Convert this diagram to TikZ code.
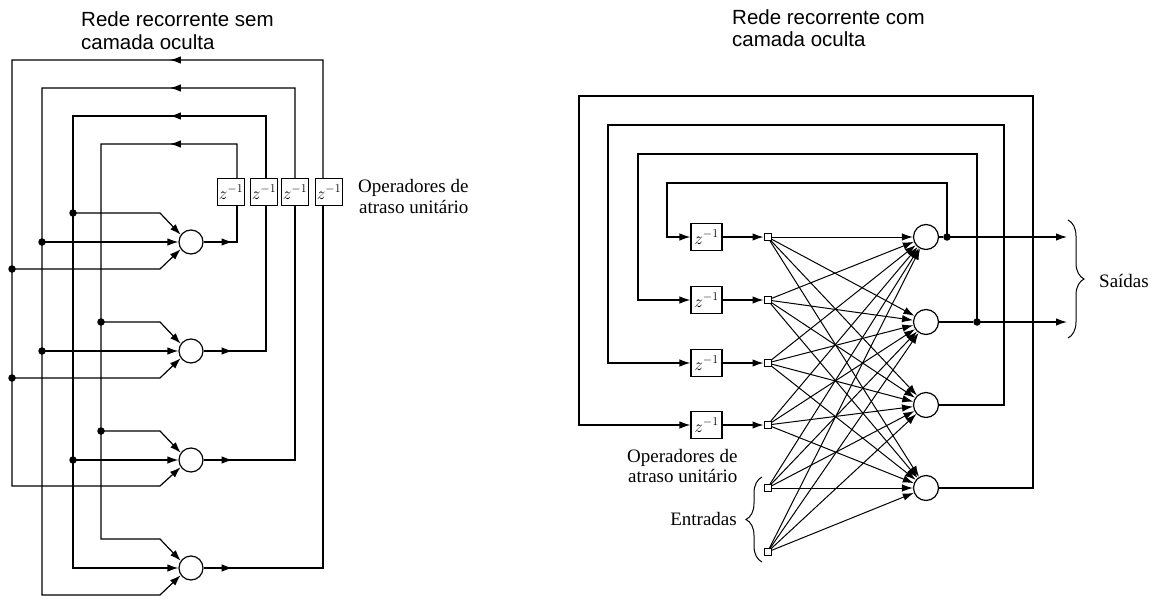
\documentclass[tikz,border=0pt]{standalone}
\usepackage{fontspec}
\setmainfont{Liberation Serif}
\newfontfamily\titlefont{Liberation Sans}
\usetikzlibrary{arrows.meta,decorations.markings,decorations.pathreplacing}

\newcommand{\zinv}{\fontsize{18}{18}\selectfont$z^{-1}$}

\tikzset{
  wire/.style={line width=1.2pt},
  fanwire/.style={line width=1pt},
  neuron/.style={circle, draw, line width=1.2pt, minimum size=24pt, inner sep=0pt, fill=white},
  delaybox/.style={draw, line width=1.2pt, minimum width=27pt, minimum height=27pt, inner sep=0pt, fill=white},
  joint/.style={circle, fill=black, minimum size=7.5pt, inner sep=0pt},
  port/.style={draw, line width=1pt, minimum size=7pt, inner sep=0pt, fill=white},
  tip/.style={-{Latex[length=11pt,width=7.5pt]}},
  arrat/.style={postaction=decorate, decoration={markings,
      mark=at position #1 with {\arrow{Latex[length=11pt,width=7.5pt]}}}},
  label/.style={font=\fontsize{19}{21}\selectfont, inner sep=0pt},
  heading/.style={font=\titlefont\fontsize{20.5}{24}\selectfont, inner sep=0pt},
  curly/.style={decorate, line width=1pt, decoration={brace, amplitude=16pt}},
}

\begin{document}
\begin{tikzpicture}[x=1pt, y=-1pt]
\useasboundingbox (0,0) rectangle (1157,599);

% ---------------- network without hidden layer ----------------
\node[heading, anchor=base west] (h1a) at (81,27) {Rede recorrente sem};
\node[heading, anchor=base west] (h1b) at (81,50) {camada oculta};

\node[neuron] (k1) at (191,242) {};
\node[neuron] (k2) at (191,351) {};
\node[neuron] (k3) at (191,460) {};
\node[neuron] (k4) at (191,568) {};

\node[delaybox] (b1) at (231,192) {\zinv};
\node[delaybox] (b2) at (264,192) {\zinv};
\node[delaybox] (b3) at (295,192) {\zinv};
\node[delaybox] (b4) at (329,192) {\zinv};
\coordinate (t1) at (237,0);
\coordinate (t2) at (266,0);
\coordinate (t3) at (295,0);
\coordinate (t4) at (323,0);

\node[label, anchor=base west] (op1a) at (358,193) {Operadores de};
\node[label, anchor=base west] (op1b) at (359,213) {atraso unitário};

% neuron outputs into the delay operators
\draw[wire, arrat=29pt] (k1.east) -- (237,242) -- (b1.south -| t1);
\draw[wire, arrat=29pt] (k2.east) -- (266,351) -- (b2.south -| t2);
\draw[wire, arrat=29pt] (k3.east) -- (295,460) -- (b3.south -| t3);
\draw[wire, arrat=29pt] (k4.east) -- (323,568) -- (b4.south -| t4);

% feedback buses
\draw[wire, tip, arrat=101pt] (b1.north -| t1) -- (237,144) -- (101,144) -- (101,539) -- (160,539) -- (k4.145);
\draw[wire, tip, arrat=158pt] (b2.north -| t2) -- (266,116) -- (73,116) -- (73,568) -- (k4.west);
\draw[wire, tip, arrat=215pt] (b3.north -| t3) -- (295,88) -- (42,88) -- (42,595) -- (160,595) -- (k4.215);
\draw[wire, tip, arrat=271pt] (b4.north -| t4) -- (323,60) -- (12,60) -- (12,486) -- (160,486) -- (k3.215);

% taps from the buses
\node[joint] (j1) at (101,322) {};
\node[joint] (j2) at (101,431) {};
\node[joint] (j3) at (73,213) {};
\node[joint] (j4) at (73,460) {};
\node[joint] (j5) at (42,242) {};
\node[joint] (j6) at (42,351) {};
\node[joint] (j7) at (12,269) {};
\node[joint] (j8) at (12,378) {};

\draw[wire, tip] (j1.center) -- (160,322) -- (k2.145);
\draw[wire, tip] (j2.center) -- (160,431) -- (k3.145);
\draw[wire, tip] (j3.center) -- (160,213) -- (k1.145);
\draw[wire, tip] (j4.center) -- (k3.west);
\draw[wire, tip] (j5.center) -- (k1.west);
\draw[wire, tip] (j6.center) -- (k2.west);
\draw[wire, tip] (j7.center) -- (160,269) -- (k1.215);
\draw[wire, tip] (j8.center) -- (160,378) -- (k2.215);

% ---------------- network with hidden layer ----------------
\node[heading, anchor=base west] (h2a) at (732,25) {Rede recorrente com};
\node[heading, anchor=base west] (h2b) at (732,47) {camada oculta};

\foreach \i/\y in {1/237, 2/300, 3/363, 4/425}
  \node[delaybox, minimum width=31pt] (zr\i) at (706.5,\y) {\zinv};
\foreach \i/\y in {1/237, 2/300, 3/363, 4/425, 5/488, 6/552}
  \node[port] (sq\i) at (767.5,\y) {};
\foreach \j/\y in {1/237, 2/322, 3/405, 4/488}
  \node[neuron, minimum size=25pt] (m\j) at (926,\y) {};

\node[joint] (o1) at (947,237) {};
\node[joint] (o2) at (977,322) {};
\coordinate (y1) at (1067,237);
\coordinate (y2) at (1067,322);

% outputs and recurrent loops
\draw[wire] (m1) -- (o1);
\draw[wire, tip] (o1.center) -- (y1);
\draw[wire, tip] (o1.center) -- (947,183) -- (667,183) -- (667,237) -- (zr1);
\draw[wire] (m2) -- (o2);
\draw[wire, tip] (o2.center) -- (y2);
\draw[wire, tip] (o2.center) -- (977,154) -- (638,154) -- (638,300) -- (zr2);
\draw[wire, tip] (m3) -- (1004,405) -- (1004,125) -- (608,125) -- (608,363) -- (zr3);
\draw[wire, tip] (m4) -- (1033,488) -- (1033,96) -- (579,96) -- (579,425) -- (zr4);

\foreach \i in {1,...,4}
  \draw[wire, tip] (zr\i) -- (sq\i);

% full connections from every source node to every neuron
\foreach \i in {1,...,6}
  \foreach \j in {1,...,4}
    \draw[fanwire, tip] (sq\i) -- (m\j);

\node[label, anchor=base west] (op2a) at (627,462) {Operadores de};
\node[label, anchor=base west] (op2b) at (628,482) {atraso unitário};
\node[label, anchor=base east] (inp) at (737,525) {Entradas};
\node[label, anchor=base west] (outp) at (1099,287) {Saídas};

\draw[curly] (1068,220) -- (1068,338);
\draw[curly] (762,562) -- (762,477);
\end{tikzpicture}
\end{document}
